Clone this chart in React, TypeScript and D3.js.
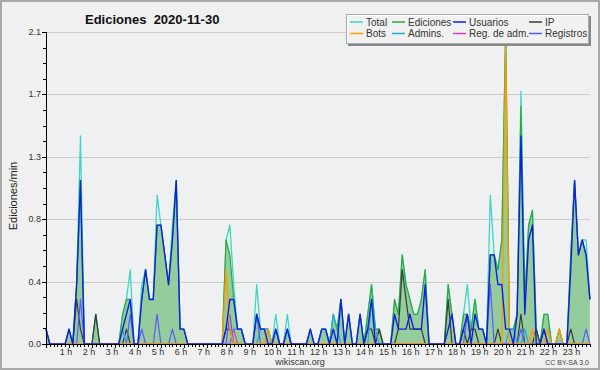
import React from "react";
import * as d3 from "d3";

// values in tenths of an edit per minute, one point every 10 minutes (00:00 .. 23:40)
const total = [
  1,0,0,0,0,0,1,0,4,14,
  0,0,0,2,0,0,0,0,0,0,
  2,3,5,0,0,4,5,3,3,10,
  8,6,4,8,11,1,1,0,0,0,
  0,0,0,0,0,0,0,7,8,4,
  1,1,0,0,0,4,1,1,1,0,
  2,0,0,2,0,0,0,0,0,1,
  0,0,1,1,0,2,1,3,0,2,
  0,0,2,0,2,4,1,1,0,0,
  0,3,2,6,4,3,2,2,3,5,
  0,0,0,0,0,4,2,0,0,2,
  4,1,3,1,1,0,10,6,5,7,
  21,1,1,2,17,3,8,9,1,0,
  2,2,0,0,1,0,0,6,11,6,
  7,7,3,
];
const ediciones = [
  1,0,0,0,0,0,1,0,4,11,
  0,0,0,2,0,0,0,0,0,0,
  2,3,3,0,0,3,5,3,3,8,
  8,6,4,7,11,1,1,0,0,0,
  0,0,0,0,0,0,0,7,6,3,
  1,1,0,0,0,2,1,1,1,0,
  1,0,0,1,0,0,0,0,0,1,
  0,0,1,1,0,2,1,3,0,2,
  0,0,2,0,2,4,1,1,0,0,
  0,3,2,6,4,3,2,2,3,5,
  0,0,0,0,0,4,2,0,0,2,
  2,1,3,1,1,0,6,6,5,7,
  21,1,1,2,16,3,8,9,1,0,
  2,2,0,0,1,0,0,6,11,6,
  7,6,3,
];
const usuarios = [
  1,0,0,0,0,0,1,0,4,11,
  0,0,0,0,0,0,0,0,0,0,
  1,2,3,0,0,3,5,3,3,8,
  8,6,4,7,11,1,1,0,0,0,
  0,0,0,0,0,0,0,1,3,3,
  1,1,0,0,0,2,1,1,0,0,
  1,0,0,1,0,0,0,0,0,1,
  0,0,1,1,0,1,0,3,0,2,
  0,0,2,0,1,3,0,0,0,0,
  0,2,1,1,1,2,1,1,1,4,
  0,0,0,0,0,1,2,0,0,1,
  2,0,2,1,1,0,6,6,4,4,
  1,1,0,2,14,2,7,8,0,0,
  1,0,0,0,0,0,0,5,11,6,
  7,6,3,
];
const ip = [
  0,0,0,0,0,0,0,0,3,1,
  0,0,0,2,0,0,0,0,0,0,
  0,1,0,0,0,0,0,0,0,0,
  0,0,0,0,0,0,0,0,0,0,
  0,0,0,0,0,0,0,1,1,0,
  0,0,0,0,0,0,0,0,0,0,
  0,0,0,0,0,0,0,0,0,0,
  0,0,0,0,0,0,0,0,0,0,
  0,0,0,0,1,1,0,1,0,0,
  0,0,1,5,3,1,1,1,1,0,
  0,0,0,0,0,3,0,0,0,1,
  0,1,1,0,0,0,0,0,1,0,
  0,0,0,0,2,0,0,0,1,0,
  1,0,0,0,0,0,0,1,0,0,
  0,0,0,
];
const bots = [
  0,0,0,0,0,0,0,0,0,0,
  0,0,0,0,0,0,0,0,0,0,
  0,0,0,0,0,0,0,0,0,0,
  0,0,0,0,0,0,0,0,0,0,
  0,0,0,0,0,0,0,5,1,0,
  0,0,0,0,0,0,0,0,1,0,
  0,0,0,0,0,0,0,0,0,0,
  0,0,0,0,0,0,0,0,0,0,
  0,0,0,0,0,0,0,0,0,0,
  0,0,0,0,0,0,0,0,0,0,
  0,0,0,0,0,0,0,0,0,0,
  0,0,0,0,0,0,0,0,0,0,
  20,0,0,0,0,0,0,1,0,0,
  0,1,0,0,1,0,0,0,0,0,
  0,0,0,
];
const admins = [
  1,0,0,0,0,0,0,0,0,0,
  0,0,0,0,0,0,0,0,0,0,
  1,0,0,0,0,0,0,0,0,0,
  0,0,0,0,0,0,0,0,0,0,
  0,0,0,0,0,0,0,0,0,1,
  1,1,0,0,0,0,1,1,1,0,
  0,0,0,0,0,0,0,0,0,0,
  0,0,1,1,0,2,1,0,0,0,
  0,0,0,0,0,3,1,0,0,0,
  0,0,0,0,0,0,0,0,0,0,
  0,0,0,0,0,0,0,0,0,0,
  0,0,0,0,0,0,0,0,0,0,
  0,1,1,0,0,1,0,0,0,0,
  0,0,0,0,0,0,0,0,0,0,
  0,0,0,
];
const regAdm = [
  0,0,0,0,0,0,0,0,0,0,
  0,0,0,0,0,0,0,0,0,0,
  0,0,0,0,0,0,0,0,0,0,
  0,0,0,0,0,0,0,0,0,0,
  0,0,0,0,0,0,0,0,0,1,
  0,0,0,0,0,0,0,0,0,0,
  0,0,0,0,0,0,0,0,0,0,
  0,0,0,0,0,0,0,0,0,0,
  0,0,0,0,0,0,0,0,0,0,
  0,0,0,0,0,0,0,0,0,0,
  0,0,0,0,0,0,0,0,0,0,
  0,0,0,0,0,0,0,0,0,0,
  0,0,0,0,0,0,0,0,0,0,
  0,0,0,0,0,0,0,0,0,0,
  0,0,0,
];
const registros = [
  0,0,0,0,0,0,0,0,0,3,
  0,0,0,0,0,0,0,0,0,0,
  0,0,2,0,0,1,0,0,0,2,
  0,0,0,1,0,0,0,0,0,0,
  0,0,0,0,0,0,0,0,2,0,
  0,0,0,0,0,2,0,0,0,0,
  1,0,0,1,0,0,0,0,0,0,
  0,0,0,0,0,0,0,0,0,0,
  0,0,0,0,0,0,0,0,0,0,
  0,0,0,0,0,0,0,0,0,0,
  0,0,0,0,0,0,0,0,0,0,
  2,0,0,0,0,0,4,0,0,0,
  0,0,0,0,1,0,0,0,0,0,
  0,0,0,0,0,0,0,0,0,0,
  0,1,0,
];

const hourLabels = ["1 h","2 h","3 h","4 h","5 h","6 h","7 h","8 h","9 h","10 h","11 h","12 h","13 h","14 h","15 h","16 h","17 h","18 h","19 h","20 h","21 h","22 h","23 h"];
const yTickLabels = ["0.0","0.4","0.8","1.3","1.7","2.1"];
const yMax = 2.1;

const legendNames = ["Total", "Ediciones", "Usuarios", "IP", "Bots", "Admins.", "Reg. de adm.", "Registros"];
const legendColors = ["#3dd6c6", "#2eaa3a", "#1020e0", "#3a3a3a", "#ff9a00", "#22aadd", "#d040d0", "#5a5aff"];

const FONT = "'Liberation Sans', Arial, sans-serif";

export default function App() {
  const W = 600, H = 370;
  const left = 46, right = 589.9, top = 32, bottom = 344;
  const n = total.length;
  const x = d3.scaleLinear().domain([0, n - 1]).range([left, right]);
  const y = d3.scaleLinear().domain([0, yMax]).range([bottom, top]);

  const line = d3.line<number>().x((_, i) => x(i)).y((v) => y(v / 10));
  const area = d3.area<number>().x((_, i) => x(i)).y0(bottom).y1((v) => y(v / 10));

  const majorTicks = d3.range(0, 6).map((k) => (yMax * k) / 5);
  const minorTicks = d3.range(0, 21).map((k) => (yMax * k) / 20);

  const series: { data: number[]; color: string; w: number }[] = [
    { data: total, color: legendColors[0], w: 1.3 },
    { data: ediciones, color: legendColors[1], w: 1.2 },
    { data: ip, color: legendColors[3], w: 1.2 },
    { data: admins, color: legendColors[5], w: 1.2 },
    { data: registros, color: legendColors[7], w: 1.2 },
    { data: regAdm, color: legendColors[6], w: 1.2 },
    { data: bots, color: legendColors[4], w: 1.3 },
    { data: usuarios, color: legendColors[2], w: 1.4 },
  ];

  const legendCols = [350, 392, 453, 529];
  const legendRows = [22, 33.5];

  return (
    <svg width={W} height={H} style={{ position: "fixed", left: 0, top: 0, display: "block" }}>
      <rect x={1} y={1} width={W - 2} height={H - 2} fill="#f0f0f0" stroke="#a8a8a8" strokeWidth={2} />
      <rect x={left} y={top} width={right - left} height={bottom - top} fill="#eef0f1" />
      {majorTicks.map((t, k) => (
        <line key={"g" + k} x1={left} x2={right} y1={Math.round(y(t)) + 0.5} y2={Math.round(y(t)) + 0.5} stroke="#cccccc" strokeWidth={1} />
      ))}
      <path d={area(ediciones) || ""} fill="#95cc9c" />
      {series.map((s, k) => (
        <path key={"s" + k} d={line(s.data) || ""} fill="none" stroke={s.color} strokeWidth={s.w} strokeLinejoin="round" />
      ))}
      {/* axes */}
      <line x1={left + 0.5} x2={left + 0.5} y1={top} y2={bottom} stroke="#000" strokeWidth={1} />
      <line x1={left} x2={right} y1={bottom + 0.5} y2={bottom + 0.5} stroke="#000" strokeWidth={1} />
      {minorTicks.map((t, k) => (
        <line key={"mt" + k} x1={left - 3} x2={left} y1={Math.round(y(t)) + 0.5} y2={Math.round(y(t)) + 0.5} stroke="#000" />
      ))}
      {majorTicks.map((t, k) => (
        <g key={"yt" + k}>
          <line x1={left - 4} x2={left} y1={Math.round(y(t)) + 0.5} y2={Math.round(y(t)) + 0.5} stroke="#000" />
          <text x={left - 5} y={y(t) + 3} textAnchor="end" fontFamily={FONT} fontSize={9} fill="#333">{yTickLabels[k]}</text>
        </g>
      ))}
      {d3.range(0, n).map((i) => (
        <line key={"xt" + i} x1={Math.round(x(i)) + 0.5} x2={Math.round(x(i)) + 0.5} y1={bottom} y2={bottom + (i % 6 === 0 ? 4 : 3)} stroke="#000" />
      ))}
      {hourLabels.map((lab, k) => (
        <text key={"xl" + k} x={x((k + 1) * 6) - 3} y={355} textAnchor="middle" fontFamily={FONT} fontSize={9} fill="#333">{lab}</text>
      ))}
      <text x={13} y={196} transform="rotate(-90 13 196)" textAnchor="middle" fontFamily={FONT} fontSize={11} fill="#222" dy={4}>Ediciones/min</text>
      <text x={85} y={23.5} fontFamily={FONT} fontSize={13} fontWeight="bold" fill="#111" style={{ whiteSpace: "pre" }}>{"Ediciones  2020-11-30"}</text>
      <text x={300} y={365} textAnchor="middle" fontFamily={FONT} fontSize={9} fill="#333">wikiscan.org</text>
      <text x={589} y={365} textAnchor="end" fontFamily={FONT} fontSize={7} fill="#444">CC BY-SA 3.0</text>
      {/* legend */}
      <rect x={348} y={16} width={243} height={30} fill="#888" />
      <rect x={346.5} y={14.5} width={242} height={29} fill="#ffffff" fillOpacity={0.88} stroke="#aaaaaa" strokeWidth={1} />
      {legendNames.map((name, k) => {
        const cx = legendCols[k % 4];
        const cy = legendRows[Math.floor(k / 4)];
        return (
          <g key={"lg" + k}>
            <rect x={cx} y={cy - 0.75} width={13} height={1.5} fill={legendColors[k]} />
            <text x={cx + 16} y={cy + 3.5} fontFamily={FONT} fontSize={10} fill="#333">{name}</text>
          </g>
        );
      })}
    </svg>
  );
}
